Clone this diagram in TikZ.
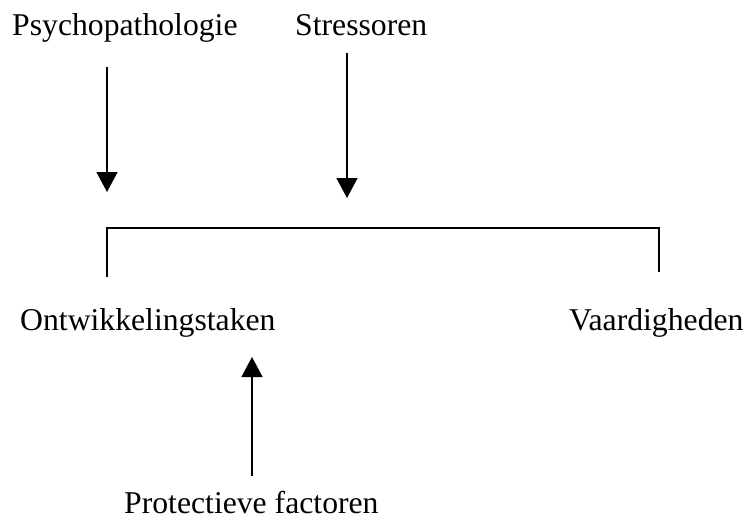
\documentclass[tikz,border=0pt]{standalone}
\usepackage{fontspec}
\setmainfont{Liberation Serif}
\usetikzlibrary{arrows.meta}

\begin{document}
\begin{tikzpicture}[x=1pt, y=-1pt,
  lbl/.style={anchor=base west, inner sep=0pt, font=\fontsize{31.7}{38}\selectfont},
  pijl/.style={line width=1.5pt, -{Triangle[length=20pt, width=21pt]}}]
  % canvas
  \useasboundingbox (0,0) rectangle (747,517);

  % labels
  \node[lbl] (psy) at (12,35) {Psychopathologie};
  \node[lbl] (stress) at (295,35) {Stressoren};
  \node[lbl] (ontw) at (20,330) {Ontwikkelingstaken};
  \node[lbl] (vaard) at (569,330) {Vaardigheden};
  \node[lbl] (prot) at (124,513) {Protectieve factoren};

  % arrow ends
  \coordinate (psytop) at (107,67);
  \coordinate (psytip) at (107,192);
  \coordinate (strtop) at (347,53);
  \coordinate (strtip) at (347,198);
  \coordinate (protbot) at (252,476);
  \coordinate (prottip) at (252,357);

  \draw[pijl] (psytop) -- (psytip);
  \draw[pijl] (strtop) -- (strtip);
  \draw[pijl] (protbot) -- (prottip);

  % bracket
  \coordinate (bl) at (107,277);
  \coordinate (br) at (659,272);
  \draw[line width=1.5pt] (bl) -- (107,228) -- (659,228) -- (br);
\end{tikzpicture}
\end{document}
